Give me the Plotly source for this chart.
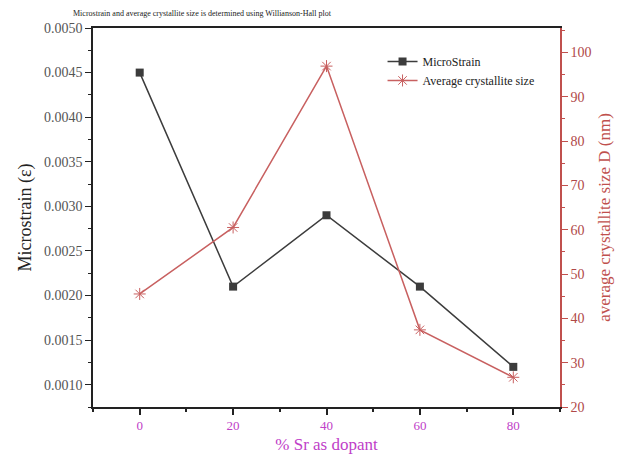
import plotly.graph_objects as go

sr_percent = [0, 20, 40, 60, 80]
microstrain = [0.0045, 0.0021, 0.0029, 0.0021, 0.0012]
crystallite_size = [45.5, 60.5, 96.9, 37.4, 26.7]

left_ticks = [0.0010, 0.0015, 0.0020, 0.0025, 0.0030, 0.0035, 0.0040, 0.0045, 0.0050]
left_labels = ["0.0010", "0.0015", "0.0020", "0.0025", "0.0030", "0.0035", "0.0040", "0.0045", "0.0050"]
right_ticks = [20, 30, 40, 50, 60, 70, 80, 90, 100]
x_ticks = [0, 20, 40, 60, 80]

FONT = "Liberation Serif"
BLACK = "#3c3c3c"
RED = "#c0504d"
MAG = "#c040c8"

fig = go.Figure()
fig.add_trace(go.Scatter(
    x=sr_percent, y=microstrain, name="MicroStrain", mode="lines+markers",
    line=dict(color=BLACK, width=1.5),
    marker=dict(symbol="square", size=8, color=BLACK),
    yaxis="y"))
fig.add_trace(go.Scatter(
    x=sr_percent, y=crystallite_size, name="Average crystallite size", mode="lines+markers",
    line=dict(color="#c86060", width=1.5),
    marker=dict(symbol="asterisk-open", size=10, color="#c86060", line=dict(color="#c86060", width=1)),
    yaxis="y2"))

fig.update_layout(
    width=623, height=463,
    margin=dict(l=93, r=59, t=28, b=56),
    paper_bgcolor="white", plot_bgcolor="white",
    font=dict(family=FONT, color="#333"),
    title=dict(text="Microstrain and average crystallite size is determined using Willianson-Hall plot",
               x=73/623, xanchor="left", y=1 - 13/463, yanchor="middle",
               font=dict(size=8, family=FONT, color="#222")),
    showlegend=True,
    legend=dict(x=0.62, y=0.95, xanchor="left", yanchor="top",
                font=dict(size=12, family=FONT, color="#222"),
                bgcolor="rgba(0,0,0,0)", tracegroupgap=0, itemwidth=30),
    xaxis=dict(range=[-10, 90], tickvals=x_ticks, ticks="outside", ticklen=6, tickwidth=1.5,
               tickcolor="#222", showline=True, linecolor="#222", linewidth=1.5, mirror=True,
               showgrid=False, zeroline=False,
               minor=dict(tickvals=[-10, 10, 30, 50, 70, 90], ticks="outside", ticklen=3, tickcolor="#222"),
               tickfont=dict(size=13, family=FONT, color=MAG),
               title=dict(text="% Sr as dopant", font=dict(size=17, family=FONT, color=MAG), standoff=6)),
    yaxis=dict(range=[0.00075, 0.0050], tickvals=left_ticks, ticktext=left_labels,
               ticks="outside", ticklen=6, tickwidth=1.2, tickcolor="#222",
               showline=True, linecolor="#222", linewidth=1.5, showgrid=False, zeroline=False,
               minor=dict(tickvals=[0.00075 + 0.0005 * i for i in range(9)], ticks="outside", ticklen=3, tickcolor="#222"),
               tickfont=dict(size=14, family=FONT, color="#555"),
               title=dict(text="Microstrain (ε)", font=dict(size=18, family=FONT, color="#222"), standoff=8)),
    yaxis2=dict(overlaying="y", side="right", range=[20, 105.5], tickvals=right_ticks,
                ticks="outside", ticklen=6, tickwidth=1.2, tickcolor=RED,
                showline=True, linecolor=RED, linewidth=1.5, showgrid=False, zeroline=False,
                minor=dict(tickvals=[25, 35, 45, 55, 65, 75, 85, 95, 105], ticks="outside", ticklen=3, tickcolor=RED),
                tickfont=dict(size=14, family=FONT, color="#b04848"),
                title=dict(text="average crystallite size D (nm)", font=dict(size=17, family=FONT, color=RED), standoff=8)),
)

fig.write_html("out.html")
